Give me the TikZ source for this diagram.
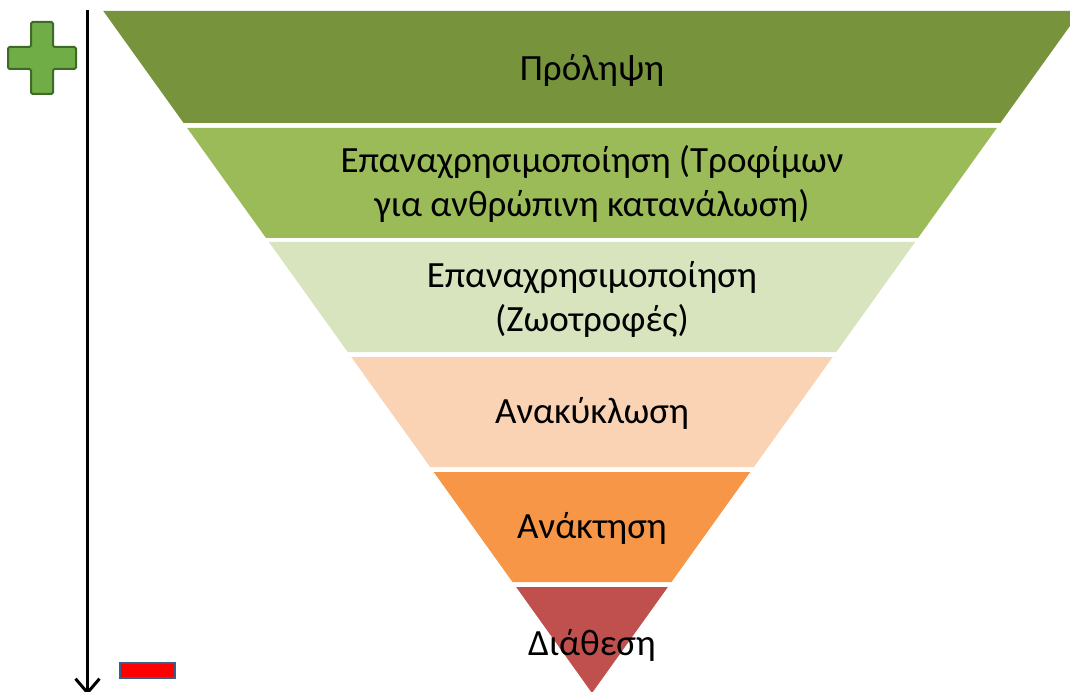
\documentclass[tikz,border=0pt]{standalone}
\usepackage{fontspec}
\setmainfont{Carlito}
\usetikzlibrary{arrows.meta}
\definecolor{bandA}{HTML}{77933C}
\definecolor{bandB}{HTML}{9BBB59}
\definecolor{bandC}{HTML}{D7E4BD}
\definecolor{bandD}{HTML}{FAD3B4}
\definecolor{bandE}{HTML}{F79646}
\definecolor{bandF}{HTML}{C0504D}
\definecolor{plusfill}{HTML}{70AD47}
\definecolor{plusline}{HTML}{3D6B25}
\definecolor{minusline}{HTML}{3A5E8A}
\tikzset{
  lbl/.style={font=\fontsize{37}{44}\selectfont, align=center, text=black, inner sep=0pt},
}
\begin{document}
\begin{tikzpicture}[x=1pt,y=-1pt]
\useasboundingbox (0,0) rectangle (1070,692);
\begin{scope}
\clip (0,0) rectangle (1070,692);
\fill[bandA] (103.3,11) -- (1080.7,11) -- (1000.4,123) -- (183.6,123) -- cycle;
\fill[bandB] (187.2,128) -- (996.8,128) -- (918,238) -- (266,238) -- cycle;
\fill[bandC] (268.9,242) -- (915.1,242) -- (836.3,352) -- (347.7,352) -- cycle;
\fill[bandD] (351.3,357) -- (832.7,357) -- (753.9,467) -- (430.1,467) -- cycle;
\fill[bandE] (433.7,472) -- (750.3,472) -- (671.5,582) -- (512.5,582) -- cycle;
\fill[bandF] (516.1,587) -- (667.9,587) -- (592,693) -- cycle;
\end{scope}
\node[lbl] (l1) at (592,70) {Πρόληψη};
\node[lbl] (l2) at (592,184) {Επαναχρησιμοποίηση (Τροφίμων\\για ανθρώπινη κατανάλωση)};
\node[lbl] (l3) at (592,299) {Επαναχρησιμοποίηση\\(Ζωοτροφές)};
\node[lbl] (l4) at (592,413) {Ανακύκλωση};
\node[lbl] (l5) at (592,528) {Ανάκτηση};
\node[lbl] (l6) at (592,645) {Διάθεση};
% arrow
\coordinate (atop) at (87.5,10);
\coordinate (abot) at (87.5,695);
\draw[line width=3.8pt, -{Straight Barb[length=14pt,width=24pt,line width=3pt]}] (atop) -- (abot);
% plus sign
\draw[fill=plusfill, draw=plusline, line width=2pt, rounded corners=1.5pt]
  (31,22) -- (53,22) -- (53,47) -- (76,47) -- (76,69) -- (53,69) -- (53,94) -- (31,94) -- (31,69) -- (8,69) -- (8,47) -- (31,47) -- cycle;
% minus sign
\draw[fill=red, draw=minusline, line width=2pt] (120,663) rectangle (175,678);
\end{tikzpicture}
\end{document}
